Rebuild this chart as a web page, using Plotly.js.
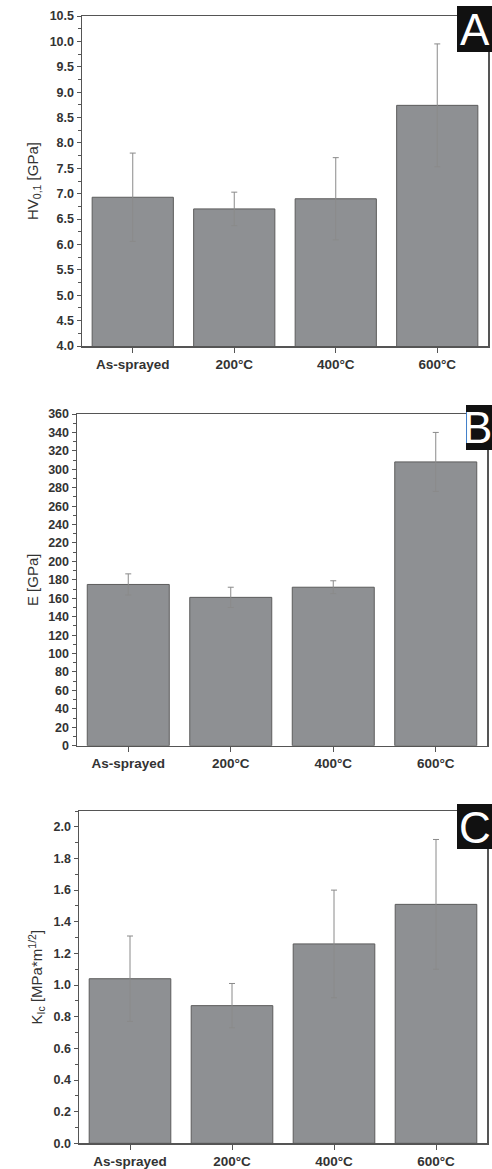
<!DOCTYPE html>
<html>
<head>
<meta charset="utf-8">
<script src="https://cdn.plot.ly/plotly-3.0.1.min.js"></script>
<style>html,body{margin:0;padding:0;background:#fff;}#chart{width:492px;height:1169px;}</style>
</head>
<body>
<div id="chart"></div>
<script>
const categories = ['As-sprayed', '200°C', '400°C', '600°C'];
const hvValues = [6.93, 6.70, 6.90, 8.74];
const hvErrors = [0.87, 0.33, 0.81, 1.21];
const eValues = [175, 161, 172, 308];
const eErrors = [11.5, 11, 7, 32];
const kValues = [1.04, 0.87, 1.26, 1.51];
const kErrors = [0.27, 0.14, 0.34, 0.41];
const panelLetters = ['A', 'B', 'C'];

const H = 1169, W = 492;
const py = p => 1 - p / H;
const px = p => p / W;

function barTrace(vals, errs, xa, ya) {
  return {
    type: 'bar', x: categories, y: vals, xaxis: xa, yaxis: ya, width: 0.8,
    marker: {color: '#8e9093', line: {color: '#5c5c5c', width: 1}},
    error_y: {type: 'data', array: errs, visible: true, color: '#8a8a8a', thickness: 1, width: 3},
    showlegend: false, hoverinfo: 'x+y'
  };
}

const FAM = 'Liberation Sans, Arial, sans-serif';
const tickFont = {family: FAM, size: 12.5, color: '#333', weight: 'bold'};
const xTickFont = {family: FAM, size: 13.5, color: '#333', weight: 'bold'};
const titleFont = {family: FAM, size: 15, color: '#333'};

function xAxis(domain, anchor) {
  return {
    domain: domain, anchor: anchor, type: 'category', range: [-0.5, 3.5],
    showline: true, linecolor: '#555', linewidth: 1.5, mirror: true,
    ticks: 'outside', ticklen: 5, tickwidth: 1, tickcolor: '#555',
    minor: {ticks: 'outside', ticklen: 3, tick0: 0.5, dtick: 1, tickcolor: '#555', showgrid: false},
    showgrid: false, zeroline: false, tickfont: xTickFont, fixedrange: true
  };
}
function yAxis(domain, anchor, range, dtick, minorD, title, standoff, fmt) {
  return {
    domain: domain, anchor: anchor, range: range, dtick: dtick, tick0: 0,
    showline: true, linecolor: '#555', linewidth: 1.5, mirror: true,
    ticks: 'outside', ticklen: 4, tickwidth: 1, tickcolor: '#555',
    minor: {ticks: 'outside', ticklen: 2.5, dtick: minorD, tickcolor: '#555', showgrid: false},
    showgrid: false, zeroline: false, tickfont: tickFont, tickformat: fmt,
    title: {text: title, font: titleFont, standoff: standoff}, fixedrange: true
  };
}

const data = [
  barTrace(hvValues, hvErrors, 'x', 'y'),
  barTrace(eValues, eErrors, 'x2', 'y2'),
  barTrace(kValues, kErrors, 'x3', 'y3')
];

const letterFont = {family: FAM, size: 44, color: '#fff'};

const layout = {
  width: W, height: H, margin: {l: 0, r: 0, t: 0, b: 0},
  paper_bgcolor: '#fff', plot_bgcolor: '#fff', bargap: 0.2,
  xaxis: xAxis([px(82), px(488)], 'y'),
  yaxis: yAxis([py(346), py(16)], 'x', [4, 10.5], 0.5, 0.25, 'HV<sub>0,1</sub> [GPa]', 7, '.1f'),
  xaxis2: xAxis([px(77), px(487)], 'y2'),
  yaxis2: yAxis([py(745.7), py(414)], 'x2', [0, 360], 20, 10, 'E [GPa]', 6, 'd'),
  xaxis3: xAxis([px(79), px(487)], 'y3'),
  yaxis3: yAxis([py(1143.3), py(811)], 'x3', [0, 2.1], 0.2, 0.1, 'K<sub>Ic</sub> [MPa*m<sup>1/2</sup>]', 7, '.1f'),
  shapes: [
    {type: 'rect', xref: 'paper', yref: 'paper', x0: px(457), x1: px(492), y0: py(52), y1: py(6), fillcolor: '#111', line: {width: 0}, layer: 'above'},
    {type: 'rect', xref: 'paper', yref: 'paper', x0: px(466), x1: px(492), y0: py(450), y1: py(405), fillcolor: '#111', line: {width: 0}, layer: 'above'},
    {type: 'rect', xref: 'paper', yref: 'paper', x0: px(457), x1: px(492), y0: py(849), y1: py(804), fillcolor: '#111', line: {width: 0}, layer: 'above'}
  ],
  annotations: [
    {text: panelLetters[0], xref: 'paper', yref: 'paper', x: px(474.5), y: py(29), xanchor: 'center', yanchor: 'middle', showarrow: false, font: letterFont},
    {text: panelLetters[1], xref: 'paper', yref: 'paper', x: px(477), y: py(428), xanchor: 'center', yanchor: 'middle', showarrow: false, font: letterFont},
    {text: panelLetters[2], xref: 'paper', yref: 'paper', x: px(475), y: py(827), xanchor: 'center', yanchor: 'middle', showarrow: false, font: letterFont}
  ]
};

Plotly.newPlot('chart', data, layout, {displayModeBar: false, staticPlot: true});
</script>
</body>
</html>
